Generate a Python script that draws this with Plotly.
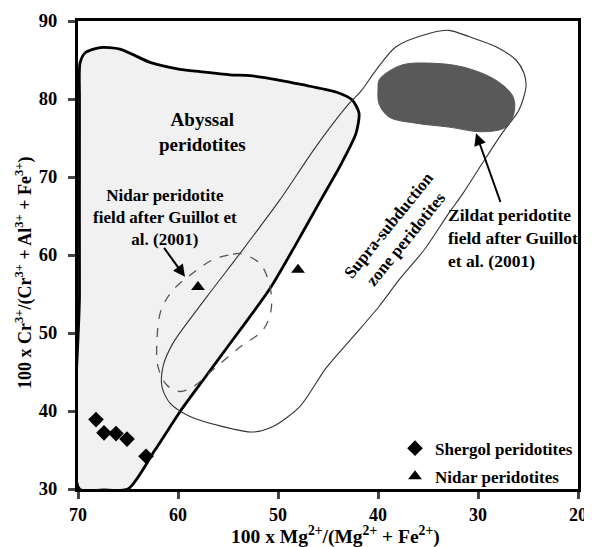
import plotly.graph_objects as go

# ---- data ----
shergol_x = [68.2, 67.4, 66.2, 65.1, 63.2]
shergol_y = [38.9, 37.2, 37.1, 36.4, 34.2]
nidar_x = [58.0, 48.0]
nidar_y = [55.9, 58.1]

abyssal_x = [65.0, 62.3, 59.7, 57.3, 55.0, 50.8, 48.2, 45.7, 43.8, 42.2, 41.9, 42.6, 44.2,
             47.8, 49.8, 52.8, 54.8, 57.8, 59.8, 62.8, 65.8, 67.8, 69.3, 69.8, 69.85, 69.85, 69.85, 67.5, 65.0]
abyssal_y = [30.0, 35.0, 40.1, 44.3, 48.3, 55.7, 61.4, 67.1, 71.4, 75.6, 78.2, 79.9, 80.9,
             81.9, 82.4, 83.0, 83.1, 83.5, 83.8, 84.7, 86.4, 86.6, 85.9, 84.6, 80.0, 55.0, 30.0, 29.9, 30.0]

supra_x = [53.8, 57.2, 60.5, 61.5, 61.6, 60.8, 58.8, 55.5, 52.5, 50.5, 47.8, 45.2, 42.5, 39.9,
           37.9, 35.3, 32.9, 31.5, 29.6, 27.6, 25.9, 25.2, 25.4, 26.2, 28.2, 30.9, 32.9, 34.9,
           38.2, 40.2, 41.7, 42.9, 46.2, 49.8, 53.8]
supra_y = [60.2, 54.5, 48.7, 45.7, 43.1, 41.0, 39.3, 38.0, 37.3, 38.0, 40.6, 45.5, 49.5, 53.4,
           56.8, 60.8, 65.4, 67.9, 71.7, 75.6, 78.6, 81.6, 83.3, 85.0, 86.7, 88.0, 88.8, 88.4,
           86.7, 83.7, 81.0, 79.4, 73.9, 67.1, 60.2]

nidar_field_x = [56.5, 54.5, 53.8, 51.8, 50.8, 50.7, 51.5, 53.8, 56.5, 58.5, 59.8, 61.1,
                 62.0, 62.1, 61.7, 60.5, 58.8, 56.5]
nidar_field_y = [59.4, 60.1, 60.2, 58.9, 55.9, 52.9, 50.4, 48.2, 45.3, 43.1, 42.5, 43.3,
                 45.7, 49.1, 52.9, 55.5, 57.4, 59.4]

zildat_x = [39.9, 39.2, 37.5, 34.9, 31.5, 28.2, 26.5, 26.4, 27.2, 29.6, 32.9, 36.2, 38.9,
            39.9, 40.0, 39.9]
zildat_y = [82.4, 83.3, 84.4, 84.6, 84.1, 82.4, 80.3, 78.2, 76.4, 75.8, 76.4, 76.9, 77.7,
            79.4, 81.2, 82.4]

x_ticks = [70, 60, 50, 40, 30, 20]
y_ticks = [30, 40, 50, 60, 70, 80, 90]

FONT = "Liberation Serif"

fig = go.Figure()

fig.add_trace(go.Scatter(x=abyssal_x, y=abyssal_y, mode="lines", fill="toself",
                         fillcolor="#f1f1f1", line=dict(color="black", width=2.8, shape="spline", smoothing=0.7),
                         showlegend=False, hoverinfo="skip"))
fig.add_trace(go.Scatter(x=supra_x, y=supra_y, mode="lines",
                         line=dict(color="#333333", width=1.1, shape="spline", smoothing=0.8),
                         showlegend=False, hoverinfo="skip"))
fig.add_trace(go.Scatter(x=nidar_field_x, y=nidar_field_y, mode="lines",
                         line=dict(color="#555555", width=1.3, dash="dash", shape="spline", smoothing=1.0),
                         showlegend=False, hoverinfo="skip"))
fig.add_trace(go.Scatter(x=zildat_x, y=zildat_y, mode="lines", fill="toself", fillcolor="#595959",
                         line=dict(color="#595959", width=1, shape="spline", smoothing=1.0),
                         showlegend=False, hoverinfo="skip"))

fig.add_trace(go.Scatter(x=shergol_x, y=shergol_y, mode="markers", name="Shergol peridotites",
                         legendgroup="shergol",
                         marker=dict(symbol="diamond", size=12, color="black")))
fig.add_trace(go.Scatter(x=nidar_x, y=nidar_y, mode="markers", name="Nidar peridotites",
                         legendgroup="nidar",
                         marker=dict(symbol="triangle-up", size=12, color="black")))

def f(size):
    return dict(family=FONT, size=size, color="black", weight="bold")

ann = [
    dict(x=57.6, y=75.8, text="Abyssal<br>peridotites", showarrow=False, font=f(19), align="center"),
    dict(x=61.3, y=64.8, text="Nidar peridotite<br>field after Guillot et<br>al. (2001)",
         showarrow=False, font=f(17), align="center"),
    dict(x=33.2, y=62.2, text="Zildat peridotite<br>field after Guillot<br>et al. (2001)", xanchor="left",
         showarrow=False, font=f(17.5), align="left"),
    dict(x=38.1, y=62.9, text="Supra-subduction<br>zone peridotites", showarrow=False, textangle=-51,
         font=f(17), align="center"),
    dict(x=59.3, y=57.2, ax=61.5, ay=61.1, axref="x", ayref="y", text="", showarrow=True,
         arrowhead=2, arrowsize=1.2, arrowwidth=2, arrowcolor="black"),
    dict(x=30.2, y=75.6, ax=27.7, ay=66.6, axref="x", ayref="y", text="", showarrow=True,
         arrowhead=2, arrowsize=1.2, arrowwidth=2, arrowcolor="black"),
    # axis titles
    dict(xref="paper", yref="paper", x=0.5, y=0, xshift=7, yshift=-46, xanchor="center", yanchor="middle",
         text="100 x Mg<sup>2+</sup>/(Mg<sup>2+</sup> + Fe<sup>2+</sup>)", showarrow=False, font=f(19.5)),
    dict(xref="paper", yref="paper", x=0, y=0.5, xshift=-54, yshift=-18, xanchor="center", yanchor="middle",
         textangle=-90, showarrow=False, font=f(18),
         text="100 x Cr<sup>3+</sup>/(Cr<sup>3+</sup> + Al<sup>3+</sup> + Fe<sup>3+</sup>)"),
]

# the page body adds an 8 px margin; margins are set so the plot area lands where the reference's is
fig.update_layout(
    width=592, height=547,
    margin=dict(l=70, r=22, t=13, b=66),
    plot_bgcolor="white", paper_bgcolor="white",
    annotations=ann,
    legend=dict(x=1, y=-0.012, xanchor="right", yanchor="bottom", bgcolor="rgba(0,0,0,0)",
                font=f(17), itemwidth=30, tracegroupgap=3),
)
fig.update_xaxes(range=[70, 20], tickvals=x_ticks, ticks="outside", ticklen=7, tickwidth=2.5,
                 showline=True, linewidth=3, linecolor="black", mirror=True, showgrid=False, zeroline=False,
                 tickfont=f(18), automargin=False)
fig.update_yaxes(range=[30, 90], tickvals=y_ticks, ticks="outside", ticklen=7, tickwidth=2.5,
                 showline=True, linewidth=3, linecolor="black", mirror=True, showgrid=False, zeroline=False,
                 tickfont=f(18.5), automargin=False, ticklabelstandoff=7)

fig.write_html("out.html")
